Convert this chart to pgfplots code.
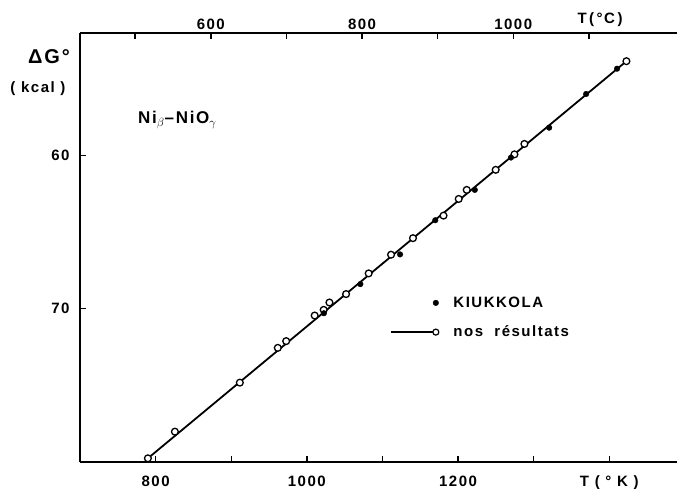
\documentclass[border=0pt]{standalone}
\usepackage{pgfplots}
\pgfplotsset{compat=1.18}
\usepackage{fontspec}
\setmainfont{Liberation Sans}[LetterSpace=10]

% nos resultats (open circles), T in K, -DeltaG in kcal
\pgfplotstableread{
T      G
789.8  79.76
825.5  78.02
911.4  74.82
961.6  72.55
972.7  72.11
1010.4 70.44
1022.3 70.07
1029.9 69.59
1051.9 69.04
1081.8 67.69
1111.4 66.47
1140.4 65.39
1180.8 63.92
1200.9 62.83
1211.5 62.24
1249.8 60.93
1274.6 59.92
1287.8 59.24
1422.7 53.84
}\nos

% KIUKKOLA (filled dots)
\pgfplotstableread{
T      G
1022.6 70.29
1070.8 68.39
1123.3 66.45
1169.9 64.22
1222.2 62.24
1270.0 60.13
1320.5 58.18
1369.4 55.98
1410.3 54.33
}\kiu

\begin{document}
\begin{tikzpicture}[font=\bfseries\fontsize{15}{18}\selectfont]
\begin{axis}[
    name=ax, at={(0pt,0pt)}, anchor=south west,
    scale only axis, width=597pt, height=429pt,
    xmin=700, xmax=1489.6, ymin=52, ymax=80, y dir=reverse,
    axis x line*=bottom, axis y line*=left,
    axis line style={-, line width=1.8pt},
    xtick={800,900,...,1400}, xticklabels={800,,1000,,1200,,{T ( ° K )}},
    ytick={60,70}, yticklabels={60,70},
    tick align=inside, major tick length=6pt,
    tick style={line width=1.4pt, black},
    xticklabel style={yshift=-10pt},
    yticklabel style={xshift=-7pt},
    clip=false,
    legend cell align=left,
    legend style={draw=none, fill=none, inner sep=0pt, row sep=13pt,
        at={(axis description cs:0.519,0.39)}, anchor=north west,
        /tikz/every odd column/.append style={column sep=12pt}},
]
\addlegendimage{legend image code/.code={
    \path[draw=none] (0pt,0pt) -- (48pt,0pt);
    \fill (45pt,0pt) circle (2.8pt);}}
\addlegendentry{KIUKKOLA}
\addlegendimage{legend image code/.code={
    \draw[line width=1.6pt] (0pt,0pt) -- (42pt,0pt);
    \draw[line width=1.2pt, fill=white] (45pt,0pt) circle (3pt);
    \path[draw=none] (48pt,0pt);}}
\addlegendentry{nos\ \ résultats}

\addplot[black, line width=1.8pt, forget plot] coordinates {(789.8,79.76) (1422.7,53.84)};
\addplot[only marks, mark=*, mark size=3.4pt,
    mark options={fill=white, draw=black, line width=1.3pt}, forget plot] table[x=T, y=G] {\nos};
\addplot[only marks, mark=*, mark size=2.8pt, black, forget plot] table[x=T, y=G] {\kiu};
\end{axis}

\begin{axis}[
    at={(0pt,0pt)}, anchor=south west,
    scale only axis, width=597pt, height=429pt,
    xmin=427, xmax=1216.6, ymin=52, ymax=80,
    axis x line*=top, axis y line=none,
    axis line style={-, line width=1.8pt},
    xtick={500,600,...,1100}, xticklabels={,600,,800,,1000,},
    tick align=inside, major tick length=6pt,
    tick style={line width=1.4pt, black},
]
\end{axis}

\node[font=\bfseries\fontsize{20}{22}\selectfont] at (-31pt,405pt) {ΔG°};
\node at (-42pt,373pt) {(\ kcal\ )};
\node[anchor=base west, inner sep=0pt, font=\bfseries\fontsize{17}{20}\selectfont] at (58pt,338pt) {Ni$_{\beta}$–NiO$_{\gamma}$};
\node at (520pt,442pt) {T\,(\,°C\,)};

\pgfresetboundingbox
\path (-80pt,-27pt) rectangle (597pt,462pt);
\end{tikzpicture}
\end{document}
